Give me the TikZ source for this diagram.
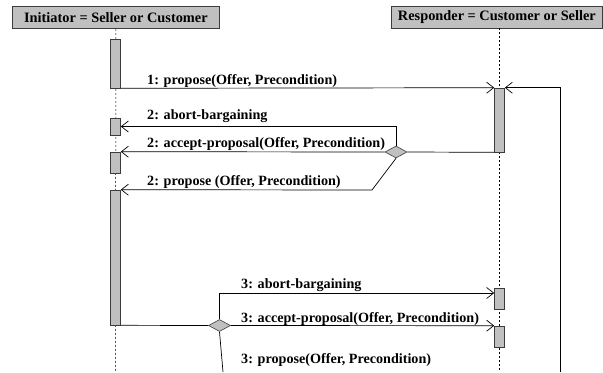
\documentclass[tikz,border=0pt]{standalone}
\usepackage{fontspec}
\setmainfont{Liberation Serif}
\usetikzlibrary{arrows.meta,shapes.geometric}
\definecolor{barg}{RGB}{192,192,192}
\definecolor{edge}{RGB}{60,60,60}
\begin{document}
\begin{tikzpicture}[x=1bp,y=-1bp,
  hdr/.style={draw=edge, fill=barg, line width=0.8bp, inner sep=0pt, anchor=north west,
    minimum height=22bp, font=\fontsize{14.4}{15}\selectfont\bfseries},
  bar/.style={draw=edge, fill=barg, inner sep=0pt, minimum width=10bp, line width=0.6bp},
  msg/.style={-{Straight Barb[length=7bp,width=11bp]}, line width=0.7bp},
  plain/.style={line width=0.7bp},
  lbl/.style={anchor=base west, inner sep=0pt, font=\fontsize{14.2}{15}\selectfont\bfseries},
  life/.style={dash pattern=on 2bp off 2bp, line width=0.5bp},
  dia/.style={diamond, draw=edge, fill=barg, inner sep=0pt, minimum width=22bp, minimum height=12bp, line width=0.6bp}]
\useasboundingbox (0,0) rectangle (603,372);
% headers
\node[hdr, minimum width=207bp] (init) at (12,6) {Initiator = Seller or Customer};
\node[hdr, minimum width=211bp] (resp) at (391,6) {Responder = Customer or Seller};
% lifelines
\coordinate (lb) at (115.5,372);
\coordinate (rt) at (499.5,28);
\coordinate (rb) at (499.5,372);
\draw[life] (init.south) -- (lb);
\draw[life] (rt) -- (rb);
% activation bars
\node[bar, minimum height=49bp] (a1) at (115.5,63.5) {};
\node[bar, minimum height=17bp] (a2) at (115.5,126.5) {};
\node[bar, minimum height=21bp] (a3) at (115.5,162.5) {};
\node[bar, minimum height=135bp] (a4) at (115.5,257.5) {};
\node[bar, minimum height=64bp] (b1) at (499.5,120) {};
\node[bar, minimum height=21bp] (b2) at (499.5,298.5) {};
\node[bar, minimum height=21bp] (b3) at (499.5,336.5) {};
% decision diamonds
\node[dia] (d1) at (396,152) {};
\node[dia] (d2) at (219.5,325.5) {};
% message 1
\draw[msg] (a1.south east) -- (b1.north west);
\coordinate (loop) at (560,372);
\draw[msg] (loop) |- (b1.north east);
% messages 2
\draw[plain] (b1.south west) -- (d1.east);
\draw[msg] (d1.north) |- (a2.east);
\draw[msg] (d1.west) -- (a3.north east);
\coordinate (k1) at (372,190);
\draw[msg] (d1.south) -- (k1) -- (a4.north east);
% messages 3
\draw[plain] (a4.south east) -- (d2.west);
\draw[msg] (d2.north) |- ([yshift=5.5bp]b2.west);
\draw[msg] (d2.east) -- (b3.north west);
\coordinate (e3) at (223,372);
\draw[plain] (d2.south) -- (e3);
% labels
\node[lbl] (l1) at (147,84) {1: propose(Offer, Precondition)};
\node[lbl] (l2) at (147,119) {2: abort-bargaining};
\node[lbl] (l3) at (147,147) {2: accept-proposal(Offer, Precondition)};
\node[lbl] (l4) at (147,185) {2: propose (Offer, Precondition)};
\node[lbl] (l5) at (241,288.5) {3: abort-bargaining};
\node[lbl] (l6) at (241,322) {3: accept-proposal(Offer, Precondition)};
\node[lbl] (l7) at (241,363) {3: propose(Offer, Precondition)};
\end{tikzpicture}
\end{document}
